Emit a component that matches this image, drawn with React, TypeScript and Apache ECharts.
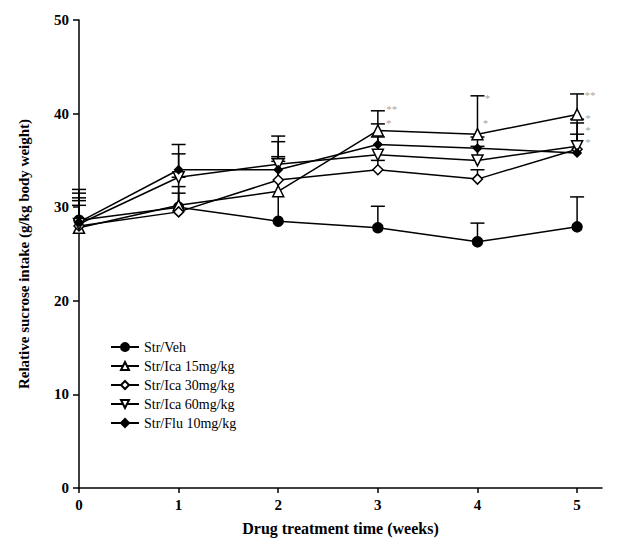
import React, { useEffect, useRef } from "react";
import * as echarts from "echarts";

const weeks = [0, 1, 2, 3, 4, 5];
const seriesNames = ["Str/Veh", "Str/Ica 15mg/kg", "Str/Ica 30mg/kg", "Str/Ica 60mg/kg", "Str/Flu 10mg/kg"];
const veh = [28.6, 30.0, 28.5, 27.8, 26.3, 27.9];
const ica15 = [27.8, 30.2, 31.7, 38.2, 37.8, 39.9];
const ica30 = [28.0, 29.5, 32.9, 34.0, 33.0, 36.2];
const ica60 = [28.2, 33.2, 34.6, 35.6, 35.0, 36.5];
const flu = [28.4, 34.0, 34.0, 36.7, 36.3, 35.8];
// upper end of the error bar (mean + SEM)
const vehTop = [31.9, 31.5, 34.9, 30.1, 28.3, 31.1];
const ica15Top = [31.5, 33.2, 35.2, 40.3, 41.9, 42.1];
const ica30Top = [31.0, 32.2, 35.4, 35.0, 34.0, 39.0];
const ica60Top = [30.7, 36.7, 37.6, 37.5, 36.5, 39.4];
const fluTop = [30.2, 35.7, 37.0, 38.9, 37.5, 37.8];
// significance marks [x, y, text]
const stars: [number, number, string][] = [
  [3.14, 40.5, "**"],
  [3.11, 39.0, "*"],
  [4.1, 41.7, "*"],
  [4.08, 39.0, "*"],
  [5.13, 42.0, "**"],
  [5.11, 38.3, "*\n*\n*"],
];
const yTicks = [0, 10, 20, 30, 40, 50];

const FONT = "Liberation Serif, Times New Roman, serif";

export default function App() {
  const ref = useRef<HTMLDivElement>(null);
  useEffect(() => {
    if (!ref.current) return;
    const chart = echarts.init(ref.current, undefined, { renderer: "svg" });
    const means = [veh, ica15, ica30, ica60, flu];
    const tops = [vehTop, ica15Top, ica30Top, ica60Top, fluTop];
    const errData: number[][] = [];
    means.forEach((m, si) => {
      m.forEach((v, i) => errData.push([weeks[i], v, tops[si][i]]));
    });
    const symbols = [
      { symbol: "circle", size: 10, fill: "#000", rotate: 0 },
      { symbol: "triangle", size: 11, fill: "#fff", rotate: 0 },
      { symbol: "diamond", size: 10, fill: "#fff", rotate: 0 },
      { symbol: "triangle", size: 11, fill: "#fff", rotate: 180 },
      { symbol: "diamond", size: 8, fill: "#000", rotate: 0 },
    ];
    const lineSeries = means.map((m, si) => ({
      type: "line",
      name: seriesNames[si],
      data: m.map((v, i) => [weeks[i], v]),
      symbol: symbols[si].symbol,
      symbolSize: symbols[si].size,
      symbolRotate: symbols[si].rotate,
      lineStyle: { color: "#000", width: 1.5 },
      itemStyle: { color: symbols[si].fill, borderColor: "#000", borderWidth: 1.5 },
      showAllSymbol: true,
      z: 3,
    }));
    chart.setOption({
      animation: false,
      backgroundColor: "#fff",
      grid: { left: 66, right: 15, top: 12, bottom: 41 },
      legend: {
        orient: "vertical",
        left: 97,
        top: 327,
        itemGap: 5,
        itemWidth: 28,
        itemHeight: 10,
        data: seriesNames,
        textStyle: { fontFamily: FONT, fontSize: 14, color: "#000" },
      },
      xAxis: {
        type: "value",
        min: 0,
        max: 5.25,
        interval: 1,
        name: "Drug treatment time (weeks)",
        nameLocation: "middle",
        nameGap: 32,
        nameTextStyle: { fontFamily: FONT, fontSize: 16, fontWeight: "bold", color: "#000" },
        axisLine: { lineStyle: { color: "#000", width: 1.5 } },
        axisTick: { length: 5, lineStyle: { color: "#000", width: 1.5 } },
        axisLabel: {
          fontFamily: FONT,
          fontSize: 15,
          fontWeight: "bold",
          color: "#000",
          margin: 9,
          showMaxLabel: false,
        },
        splitLine: { show: false },
      },
      yAxis: {
        type: "value",
        min: yTicks[0],
        max: yTicks[yTicks.length - 1],
        interval: 10,
        name: "Relative sucrose intake (g/kg body weight)",
        nameLocation: "middle",
        nameGap: 48,
        nameTextStyle: { fontFamily: FONT, fontSize: 15, fontWeight: "bold", color: "#000" },
        axisLine: { show: true, lineStyle: { color: "#000", width: 1.5 } },
        axisTick: { show: true, length: 6, lineStyle: { color: "#000", width: 1.5 } },
        axisLabel: { fontFamily: FONT, fontSize: 15, fontWeight: "bold", color: "#000", margin: 10 },
        splitLine: { show: false },
      },
      series: [
        {
          type: "custom",
          name: "err",
          data: errData,
          z: 2,
          renderItem: (params: any, api: any) => {
            const x = api.value(0);
            const p0 = api.coord([x, api.value(1)]);
            const p1 = api.coord([x, api.value(2)]);
            return {
              type: "group",
              children: [
                {
                  type: "line",
                  shape: { x1: p0[0], y1: p0[1], x2: p1[0], y2: p1[1] },
                  style: { stroke: "#000", lineWidth: 1.5 },
                },
                {
                  type: "line",
                  shape: { x1: p1[0] - 7, y1: p1[1], x2: p1[0] + 7, y2: p1[1] },
                  style: { stroke: "#000", lineWidth: 1.5 },
                },
              ],
            };
          },
        },
        ...lineSeries,
        {
          type: "scatter",
          name: "stars",
          symbolSize: 0,
          itemStyle: { color: "#999" },
          data: stars.map((s) => ({ value: [s[0], s[1]], name: s[2] })),
          label: {
            show: true,
            position: "inside",
            formatter: (p: any) => p.name,
            fontFamily: FONT,
            fontSize: 11,
            lineHeight: 12,
            color: "#8a8a8a",
            textBorderWidth: 0,
          },
          z: 4,
        },
      ],
    });
    return () => chart.dispose();
  }, []);
  return <div ref={ref} style={{ width: 609, height: 533 }} />;
}
